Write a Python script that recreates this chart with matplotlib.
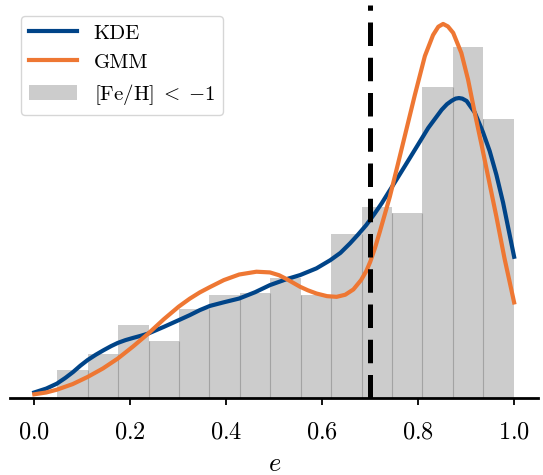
import matplotlib.pyplot as plt
import numpy as np

import matplotlib as mpl
mpl.rcParams['font.family'] = 'serif'
mpl.rcParams['font.serif'] = ['cmr10']
mpl.rcParams['mathtext.fontset'] = 'cm'
mpl.rcParams['axes.formatter.use_mathtext'] = True

# eccentricity histogram of the metal-poor sample (density-normalised)
bin_edges = [0.047, 0.111, 0.174, 0.238, 0.301, 0.365, 0.428, 0.492,
             0.555, 0.619, 0.682, 0.746, 0.809, 0.873, 0.936, 1.000]
hist_density = [0.201, 0.314, 0.522, 0.407, 0.637, 0.737, 0.752, 0.861,
                0.737, 1.175, 1.367, 1.324, 2.228, 2.515, 2.001]

# kernel density estimate
kde_e = [0.000, 0.025, 0.047, 0.065, 0.081, 0.096, 0.111, 0.128, 0.144, 0.160,
         0.174, 0.190, 0.206, 0.222, 0.2375, 0.270, 0.301, 0.324, 0.345, 0.366,
         0.395, 0.427, 0.460, 0.491, 0.526, 0.554, 0.588, 0.617, 0.638, 0.658,
         0.675, 0.692, 0.708, 0.724, 0.748, 0.772, 0.797, 0.821, 0.849, 0.860,
         0.870, 0.878, 0.885, 0.892, 0.901, 0.918, 0.935, 0.949, 0.963, 0.977,
         1.000]
kde_pdf = [0.040, 0.068, 0.103, 0.145, 0.187, 0.232, 0.272, 0.310, 0.342, 0.372,
           0.395, 0.415, 0.431, 0.446, 0.462, 0.510, 0.558, 0.594, 0.630, 0.660,
           0.686, 0.713, 0.758, 0.809, 0.852, 0.881, 0.929, 0.988, 1.040, 1.108,
           1.172, 1.240, 1.315, 1.395, 1.527, 1.660, 1.800, 1.935, 2.065, 2.105,
           2.130, 2.145, 2.149, 2.145, 2.128, 2.045, 1.905, 1.770, 1.600, 1.400,
           1.012]

# gaussian mixture model
gmm_e = [0.000, 0.025, 0.047, 0.080, 0.111, 0.143, 0.174, 0.206, 0.2375, 0.270,
         0.301, 0.324, 0.345, 0.366, 0.395, 0.427, 0.463, 0.491, 0.510, 0.526,
         0.554, 0.570, 0.588, 0.610, 0.630, 0.648, 0.665, 0.681, 0.692, 0.700,
         0.710, 0.720, 0.741, 0.757, 0.772, 0.793, 0.814, 0.831, 0.842, 0.852,
         0.862, 0.873, 0.890, 0.904, 0.918, 0.933, 0.948, 0.963, 0.980, 1.000]
gmm_pdf = [0.027, 0.040, 0.060, 0.100, 0.151, 0.212, 0.283, 0.370, 0.462, 0.565,
           0.655, 0.712, 0.757, 0.795, 0.845, 0.885, 0.905, 0.900, 0.880, 0.852,
           0.797, 0.772, 0.749, 0.730, 0.725, 0.740, 0.778, 0.845, 0.910, 0.975,
           1.075, 1.190, 1.443, 1.665, 1.875, 2.170, 2.450, 2.600, 2.660, 2.680,
           2.662, 2.616, 2.472, 2.281, 2.042, 1.800, 1.550, 1.300, 1.000, 0.685]

e_cut = 0.7

fig = plt.figure(figsize=(5.43, 4.75), dpi=100)
ax = fig.add_axes([0.019, 0.162, 0.972, 0.827])

edges = np.array(bin_edges)
dens = np.array(hist_density)
ax.plot(kde_e, kde_pdf, color='#004488', lw=3, label='KDE', zorder=2,
        solid_joinstyle='round')
ax.plot(gmm_e, gmm_pdf, color='#EE7733', lw=3, label='GMM', zorder=2,
        solid_joinstyle='round')
ax.bar(edges[:-1], dens, width=np.diff(edges), align='edge',
       color='#cccccc', lw=0, label=r'$[\mathrm{Fe/H}]\;<\;{-1}$', zorder=1)
# thin seams between neighbouring bars
ax.vlines(edges[1:-1], 0, np.minimum(dens[:-1], dens[1:]),
          color='#a3a3a3', lw=0.8, zorder=1.5)
ax.axvline(e_cut, color='k', lw=3.6, ls=(0, (4.7, 2.35)), zorder=3)

ax.set_xlim(-0.05, 1.05)
ax.set_ylim(0, 1.05 * max(gmm_pdf))

for s in ['left', 'right', 'top']:
    ax.spines[s].set_visible(False)
ax.spines['bottom'].set_linewidth(2)
ax.set_yticks([])
ax.set_xticks([0.0, 0.2, 0.4, 0.6, 0.8, 1.0])
ax.tick_params(axis='x', labelsize=17.5, length=5, width=1.3, pad=12)
ax.set_xlabel(r'$e$', fontsize=19, labelpad=6)

ax.legend(loc='upper left', fontsize=15, handlelength=2.3)

fig.savefig('out.png')
